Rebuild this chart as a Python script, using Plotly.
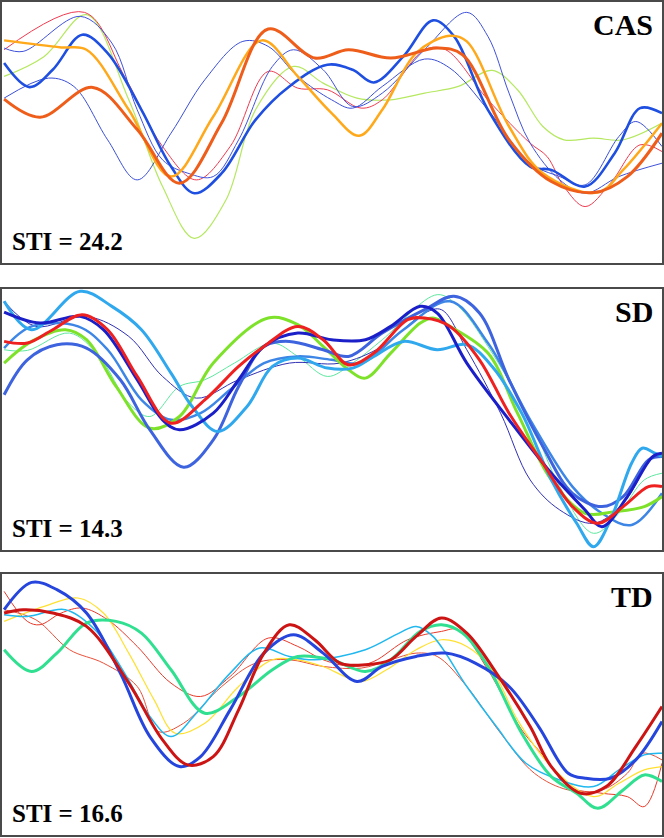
import plotly.graph_objects as go

# ---- CAS panel (time in arbitrary units, displacement in arbitrary units)
cas_orange_x = [5, 90, 215, 320, 420, 520, 630, 740, 820, 920, 1030, 1090, 1200, 1300, 1400, 1480, 1562]
cas_orange_y = [491, 437, 526, 400, 239, 420, 701, 614, 639, 614, 644, 624, 369, 244, 211, 259, 389]
cas_amber_x = [5, 140, 200, 300, 400, 500, 615, 700, 780, 845, 900, 980, 1060, 1100, 1200, 1280, 1410, 1470, 1562]
cas_amber_y = [667, 646, 639, 459, 259, 439, 667, 559, 449, 381, 459, 629, 681, 664, 409, 269, 211, 279, 419]
cas_blue_x = [5, 65, 120, 190, 250, 330, 400, 455, 520, 600, 680, 770, 830, 880, 950, 1020, 1070, 1150, 1250, 1300, 1380, 1450, 1510, 1562]
cas_blue_y = [599, 527, 579, 684, 629, 459, 289, 209, 269, 429, 529, 594, 579, 541, 619, 727, 679, 459, 289, 279, 229, 329, 464, 449]
cas_thin1_x = [5, 110, 170, 250, 320, 400, 480, 570, 630, 700, 780, 830, 900, 1000, 1060, 1150, 1250, 1320, 1380, 1460, 1500, 1562]
cas_thin1_y = [494, 554, 529, 369, 249, 389, 549, 664, 649, 559, 489, 464, 529, 611, 584, 459, 299, 259, 234, 379, 424, 349]
cas_thin2_x = [5, 50, 185, 260, 320, 380, 440, 500, 560, 640, 690, 760, 830, 900, 1000, 1100, 1150, 1200, 1250, 1320, 1380, 1460, 1562]
cas_thin2_y = [644, 634, 739, 659, 459, 309, 269, 259, 369, 589, 639, 579, 469, 509, 639, 751, 679, 509, 359, 249, 209, 259, 299]
cas_red_x = [5, 195, 290, 380, 460, 540, 630, 700, 770, 850, 900, 1000, 1050, 1150, 1250, 1290, 1330, 1380, 1440, 1510, 1562]
cas_red_y = [639, 751, 559, 349, 249, 349, 574, 524, 519, 464, 489, 639, 639, 489, 359, 319, 229, 169, 239, 354, 334]
cas_lime_x = [5, 100, 200, 300, 380, 455, 530, 600, 690, 760, 840, 920, 1000, 1080, 1160, 1220, 1280, 1330, 1400, 1470, 1562]
cas_lime_y = [559, 619, 744, 489, 229, 74, 189, 459, 589, 539, 494, 489, 509, 529, 577, 519, 409, 369, 374, 369, 419]

# ---- SD panel
sd_sky_x = [5, 70, 185, 260, 330, 400, 450, 510, 580, 640, 700, 770, 830, 880, 950, 1030, 1100, 1160, 1230, 1300, 1360, 1400, 1440, 1490, 1515, 1545, 1562]
sd_sky_y = [745, 660, 775, 730, 660, 530, 430, 355, 430, 550, 575, 545, 545, 580, 625, 600, 615, 550, 410, 210, 80, 10, 90, 260, 305, 290, 280]
sd_royal_x = [5, 60, 130, 200, 280, 350, 430, 500, 560, 620, 680, 760, 820, 900, 1000, 1070, 1130, 1200, 1280, 1350, 1420, 1470, 1530, 1562]
sd_royal_y = [465, 570, 615, 605, 510, 360, 248, 330, 490, 610, 625, 600, 580, 650, 720, 760, 710, 510, 310, 170, 130, 160, 270, 280]
sd_navy_x = [5, 90, 185, 240, 320, 380, 420, 500, 560, 620, 700, 780, 860, 920, 990, 1030, 1100, 1200, 1300, 1380, 1420, 1480, 1540, 1562]
sd_navy_y = [713, 680, 700, 660, 510, 390, 360, 410, 510, 610, 650, 630, 630, 670, 730, 710, 560, 390, 230, 120, 70, 160, 280, 290]
sd_red_x = [5, 60, 120, 190, 250, 320, 400, 480, 560, 620, 700, 760, 820, 880, 960, 1000, 1060, 1130, 1200, 1280, 1350, 1410, 1470, 1530, 1562]
sd_red_y = [625, 620, 660, 705, 660, 520, 380, 450, 550, 610, 670, 630, 555, 590, 690, 695, 670, 570, 410, 260, 130, 80, 130, 190, 190]
sd_green_x = [5, 70, 150, 200, 270, 350, 420, 500, 630, 700, 760, 820, 860, 920, 990, 1020, 1060, 1150, 1220, 1300, 1380, 1450, 1520, 1562]
sd_green_y = [560, 625, 660, 630, 490, 365, 400, 560, 695, 675, 610, 540, 515, 590, 680, 695, 670, 590, 410, 210, 110, 115, 130, 160]
sd_mint_x = [5, 60, 160, 230, 300, 350, 420, 480, 550, 640, 700, 770, 830, 900, 1030, 1080, 1150, 1250, 1320, 1400, 1460, 1520, 1562]
sd_mint_y = [600, 598, 650, 580, 440, 400, 490, 510, 560, 620, 580, 520, 560, 630, 765, 730, 610, 390, 190, 50, 110, 210, 230]
sd_thin_x = [5, 80, 200, 300, 380, 460, 560, 680, 800, 900, 1000, 1040, 1100, 1180, 1250, 1320, 1400, 1470, 1540, 1562]
sd_thin_y = [745, 670, 700, 640, 520, 455, 510, 560, 560, 610, 710, 720, 600, 410, 210, 120, 80, 140, 280, 290]
sd_mid_x = [5, 70, 180, 250, 330, 400, 470, 540, 620, 700, 780, 850, 950, 1060, 1150, 1250, 1350, 1420, 1490, 1562]
sd_mid_y = [605, 670, 670, 600, 450, 390, 410, 480, 560, 580, 570, 560, 660, 745, 620, 390, 190, 110, 75, 170]

# ---- TD panel
td_blue_x = [5, 70, 130, 200, 280, 350, 420, 470, 540, 620, 690, 760, 840, 900, 980, 1050, 1120, 1200, 1270, 1340, 1380, 1440, 1500, 1562]
td_blue_y = [675, 757, 735, 665, 485, 295, 205, 235, 375, 545, 600, 545, 460, 505, 535, 545, 515, 445, 325, 185, 170, 170, 225, 340]
td_red_x = [5, 50, 120, 200, 300, 380, 440, 500, 560, 620, 680, 740, 800, 860, 920, 980, 1040, 1100, 1170, 1250, 1300, 1370, 1430, 1500, 1562]
td_red_y = [665, 675, 665, 625, 455, 285, 210, 235, 375, 545, 630, 585, 515, 510, 525, 595, 650, 605, 485, 325, 205, 125, 145, 265, 385]
td_green_x = [5, 70, 130, 200, 270, 330, 400, 480, 560, 640, 700, 780, 860, 920, 990, 1040, 1090, 1150, 1230, 1300, 1360, 1410, 1470, 1520, 1562]
td_green_y = [555, 490, 545, 635, 640, 605, 495, 365, 415, 495, 535, 525, 490, 525, 610, 630, 605, 505, 305, 175, 125, 80, 135, 180, 160]
td_cyan_x = [5, 60, 150, 220, 290, 350, 400, 460, 540, 610, 680, 740, 860, 940, 980, 1020, 1100, 1170, 1240, 1320, 1400, 1460, 1520, 1562]
td_cyan_y = [660, 655, 675, 615, 485, 355, 295, 365, 485, 560, 535, 525, 555, 605, 625, 595, 445, 325, 215, 165, 145, 195, 240, 245]
td_yellow_x = [5, 100, 180, 240, 300, 360, 410, 480, 560, 640, 700, 760, 850, 910, 980, 1040, 1100, 1160, 1220, 1300, 1400, 1460, 1520, 1562]
td_yellow_y = [640, 685, 710, 665, 545, 405, 305, 335, 445, 525, 525, 505, 460, 495, 555, 585, 565, 495, 345, 205, 115, 155, 195, 205]
td_thin1_x = [5, 60, 90, 140, 190, 250, 320, 400, 470, 540, 630, 700, 760, 830, 880, 960, 1040, 1080, 1150, 1230, 1290, 1340, 1420, 1480, 1520, 1562]
td_thin1_y = [730, 640, 630, 665, 680, 645, 565, 455, 415, 475, 590, 565, 525, 505, 520, 585, 610, 615, 495, 315, 225, 145, 125, 115, 85, 215]
td_thin2_x = [5, 80, 160, 240, 320, 370, 430, 520, 600, 680, 760, 850, 920, 980, 1030, 1100, 1180, 1260, 1340, 1420, 1480, 1515, 1562]
td_thin2_y = [675, 645, 555, 515, 445, 310, 335, 445, 515, 525, 505, 500, 525, 545, 535, 445, 305, 185, 135, 135, 185, 245, 225]

panels = [
    ("CAS", "STI = 24.2", [
        (cas_lime_x, cas_lime_y, "#B5E860", 1.2),
        (cas_red_x, cas_red_y, "#EE3B50", 1),
        (cas_thin1_x, cas_thin1_y, "#3A4FD8", 1),
        (cas_thin2_x, cas_thin2_y, "#4052DA", 1),
        (cas_blue_x, cas_blue_y, "#1F4FE0", 2.6),
        (cas_amber_x, cas_amber_y, "#FFA81A", 2.5),
        (cas_orange_x, cas_orange_y, "#EE5E1A", 3),
    ]),
    ("SD", "STI = 14.3", [
        (sd_mint_x, sd_mint_y, "#5DE8A0", 1),
        (sd_thin_x, sd_thin_y, "#3030B5", 1),
        (sd_mid_x, sd_mid_y, "#3D86E6", 2.5),
        (sd_green_x, sd_green_y, "#7EE22A", 3),
        (sd_royal_x, sd_royal_y, "#3D63DE", 3),
        (sd_sky_x, sd_sky_y, "#30A8EE", 3),
        (sd_navy_x, sd_navy_y, "#1B1FC8", 3),
        (sd_red_x, sd_red_y, "#EE2020", 3),
    ]),
    ("TD", "STI = 16.6", [
        (td_thin1_x, td_thin1_y, "#E83A2A", 1),
        (td_thin2_x, td_thin2_y, "#E8503A", 1),
        (td_yellow_x, td_yellow_y, "#FFE030", 1.2),
        (td_cyan_x, td_cyan_y, "#20B8EE", 1.5),
        (td_green_x, td_green_y, "#30E090", 3),
        (td_blue_x, td_blue_y, "#2545DD", 3),
        (td_red_x, td_red_y, "#CC1414", 3),
    ]),
]

# vertical pixel bounds of each boxed panel (top, bottom)
H, W = 838, 664
bounds = [(2, 263), (289, 550), (574, 835)]

fig = go.Figure()
annotations = []
for i, (name, sti, lines) in enumerate(panels):
    n = i + 1
    xa = "x" if n == 1 else f"x{n}"
    ya = "y" if n == 1 else f"y{n}"
    for xs, ys, col, w in lines:
        fig.add_trace(go.Scatter(x=xs, y=ys, mode="lines", xaxis=xa, yaxis=ya,
                                 line=dict(color=col, width=w, shape="spline", smoothing=1.0),
                                 showlegend=False, hoverinfo="skip"))
    top, bot = bounds[i]
    dom = [1 - bot / H, 1 - top / H]
    axis_style = dict(showline=True, mirror=True, linecolor="#4a4a4a", linewidth=1.5,
                      showgrid=False, zeroline=False, showticklabels=False, ticks="")
    fig.update_layout(**{
        ("xaxis" if n == 1 else f"xaxis{n}"): dict(domain=[2 / W, 662 / W], range=[0, 1562],
                                                   anchor=ya, **axis_style),
        ("yaxis" if n == 1 else f"yaxis{n}"): dict(domain=dom, range=[0, 782],
                                                   anchor=xa, **axis_style),
    })
    annotations.append(dict(text=f"<b>{name}</b>", xref="paper", yref="paper",
                            x=655 / W, y=1 - (top + 4) / H, xanchor="right", yanchor="top",
                            showarrow=False,
                            font=dict(family="Liberation Serif, Times New Roman, serif", size=30, color="black")))
    annotations.append(dict(text=f"<b>{sti}</b>", xref="paper", yref="paper",
                            x=10 / W, y=1 - (bot - 6) / H, xanchor="left", yanchor="bottom",
                            showarrow=False,
                            font=dict(family="Liberation Serif, Times New Roman, serif", size=25, color="black")))

fig.update_layout(width=W, height=H, margin=dict(l=0, r=0, t=0, b=0),
                  paper_bgcolor="white", plot_bgcolor="white", annotations=annotations)

fig.write_html("out.html", config={"displayModeBar": False},
               post_script="document.body.style.margin='0px';")
